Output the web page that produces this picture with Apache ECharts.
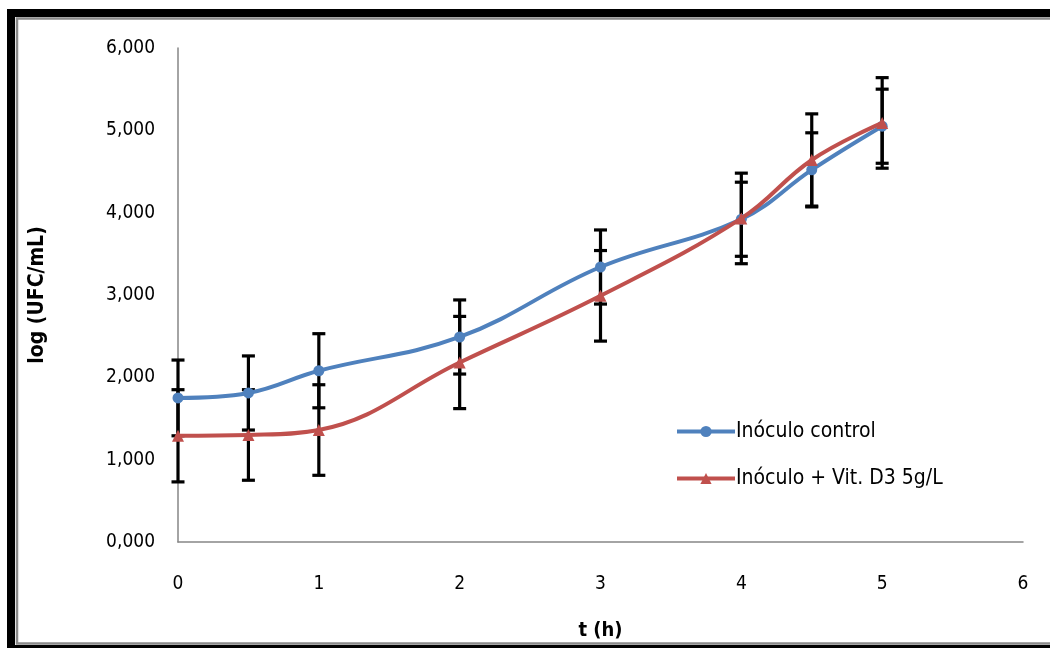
<!DOCTYPE html>
<html>
<head>
<meta charset="utf-8">
<script src="https://cdn.jsdelivr.net/npm/echarts@6/dist/echarts.min.js"></script>
<style>html,body{margin:0;padding:0;background:#fff}#c{width:1050px;height:648px}</style>
</head>
<body>
<div id="c"></div>
<script>
var timeH = [0, 0.5, 1, 2, 3, 4, 4.5, 5];
var controlVals = [1.75, 1.81, 2.08, 2.49, 3.34, 3.92, 4.52, 5.05];
var controlErr = [0.46, 0.45, 0.45, 0.45, 0.45, 0.45, 0.45, 0.45];
var vitVals = [1.29, 1.30, 1.36, 2.18, 2.99, 3.93, 4.64, 5.09];
var vitErr = [0.56, 0.55, 0.55, 0.56, 0.55, 0.55, 0.56, 0.55];
var seriesNames = ['Inóculo control', 'Inóculo + Vit. D3 5g/L'];
var xTitle = 't (h)';
var yTitle = 'log (UFC/mL)';

var FONT = '"DejaVu Sans Condensed","Liberation Sans",Arial,sans-serif';

function pairs(xs, ys) { return xs.map(function (x, i) { return [x, ys[i]]; }); }
function errData(xs, ys, es) { return xs.map(function (x, i) { return [x, ys[i] - es[i], ys[i] + es[i]]; }); }

function errRender(params, api) {
  var x = api.value(0), lo = api.value(1), hi = api.value(2);
  var pLo = api.coord([x, lo]), pHi = api.coord([x, hi]);
  var w = 6.5;
  var st = { stroke: '#000', lineWidth: 3.2 };
  return {
    type: 'group',
    children: [
      { type: 'line', shape: { x1: pLo[0], y1: pLo[1], x2: pHi[0], y2: pHi[1] }, style: st },
      { type: 'line', shape: { x1: pLo[0] - w, y1: pLo[1], x2: pLo[0] + w, y2: pLo[1] }, style: st },
      { type: 'line', shape: { x1: pHi[0] - w, y1: pHi[1], x2: pHi[0] + w, y2: pHi[1] }, style: st }
    ]
  };
}

var chart = echarts.init(document.getElementById('c'), null, { renderer: 'canvas' });
chart.setOption({
  backgroundColor: '#fff',
  animation: false,
  graphic: [
    { type: 'rect', shape: { x: 11, y: 13, width: 1100, height: 636 }, style: { fill: 'none', stroke: '#000', lineWidth: 8 }, z: 100 },
    { type: 'rect', shape: { x: 17, y: 18.5, width: 1100, height: 625 }, style: { fill: 'none', stroke: '#8a8a8a', lineWidth: 2.5 }, z: 100 }
  ],
  grid: { left: 178, top: 48, right: 27, bottom: 106 },
  legend: {
    orient: 'vertical',
    left: 670,
    top: 416,
    itemGap: 26,
    itemWidth: 58,
    itemHeight: 14,
    lineStyle: { width: 4 },
    textStyle: { fontFamily: FONT, fontSize: 21, color: '#000', padding: [0, 0, 0, -4] },
    data: [seriesNames[0], seriesNames[1]]
  },
  xAxis: {
    type: 'value', min: 0, max: 6, interval: 1,
    name: xTitle, nameLocation: 'middle', nameGap: 79,
    nameTextStyle: { fontFamily: FONT, fontSize: 20, fontWeight: 'bold', color: '#000' },
    axisLine: { lineStyle: { color: '#868686', width: 1.5 } },
    axisTick: { show: false },
    splitLine: { show: false },
    axisLabel: { margin: 33, fontFamily: FONT, fontSize: 19, color: '#000' }
  },
  yAxis: {
    type: 'value', min: 0, max: 6, interval: 1,
    name: yTitle, nameLocation: 'middle', nameGap: 130, nameRotate: 90,
    nameTextStyle: { fontFamily: FONT, fontSize: 21, fontWeight: 'bold', color: '#000' },
    axisLine: { show: true, lineStyle: { color: '#868686', width: 1.5 } },
    axisTick: { show: false },
    splitLine: { show: false },
    axisLabel: {
      margin: 23, fontFamily: FONT, fontSize: 19, color: '#000',
      formatter: function (v) { return v.toFixed(3).replace('.', ','); }
    }
  },
  series: [
    {
      type: 'custom', name: 'errControl', renderItem: errRender,
      data: errData(timeH, controlVals, controlErr), z: 1, silent: true
    },
    {
      type: 'custom', name: 'errVit', renderItem: errRender,
      data: errData(timeH, vitVals, vitErr), z: 1, silent: true
    },
    {
      type: 'line', name: seriesNames[0], data: pairs(timeH, controlVals),
      smooth: 0.4, symbol: 'circle', symbolSize: 11,
      lineStyle: { color: '#4F81BD', width: 4 },
      itemStyle: { color: '#4F81BD' }, z: 3
    },
    {
      type: 'line', name: seriesNames[1], data: pairs(timeH, vitVals),
      smooth: 0.4, symbol: 'triangle', symbolSize: 12,
      lineStyle: { color: '#C0504D', width: 4 },
      itemStyle: { color: '#C0504D' }, z: 4
    }
  ]
});
</script>
</body>
</html>
